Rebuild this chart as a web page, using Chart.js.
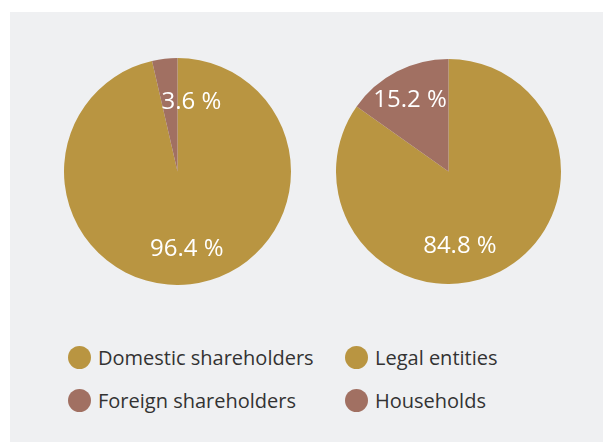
<!DOCTYPE html>
<html>
<head>
<meta charset="utf-8">
<script src="https://cdn.jsdelivr.net/npm/chart.js@4/dist/chart.umd.min.js"></script>
<style>
  body { margin: 0; background: #fff; width: 603px; height: 442px; overflow: hidden; font-family: "Open Sans", sans-serif; }
  #panel { position: absolute; left: 10px; top: 12px; width: 593px; height: 430px; background: #eff0f2; }
  .pie { position: absolute; }
  .item { position: absolute; height: 24px; display: flex; align-items: center; color: #333; font-size: 20px; white-space: nowrap; }
  .dot { width: 23px; height: 23px; border-radius: 50%; margin-right: 7px; }
</style>
</head>
<body>
<div id="panel"></div>
<div class="pie" style="left:64px; top:58px; width:227px; height:227px;"><canvas id="pie1"></canvas></div>
<div class="pie" style="left:336px; top:59px; width:225px; height:225px;"><canvas id="pie2"></canvas></div>
<div id="legend"></div>
<script>
// shareholder structure, percentages
var ownerLabels = ["Domestic shareholders", "Foreign shareholders"];
var ownerValues = [96.4, 3.6];
var typeLabels = ["Legal entities", "Households"];
var typeValues = [84.8, 15.2];

var gold = "#b99541";
var brown = "#a17062";

// where each value label sits: angle clockwise from top (deg), fraction of radius
var ownerLabelPos = [[173, 0.67], [11, 0.64]];
var typeLabelPos = [[171, 0.65], [-27.5, 0.74]];

var valueLabels = {
  id: "valueLabels",
  afterDatasetsDraw: function(chart, args, opts) {
    var ctx = chart.ctx;
    var meta = chart.getDatasetMeta(0);
    var values = chart.data.datasets[0].data;
    ctx.save();
    ctx.fillStyle = "#fff";
    ctx.font = "24px 'Open Sans'";
    ctx.textAlign = "center";
    ctx.textBaseline = "alphabetic";
    meta.data.forEach(function(arc, i) {
      var p = opts.pos[i];
      var a = p[0] * Math.PI / 180;
      var r = arc.outerRadius * p[1];
      var x = arc.x + Math.sin(a) * r;
      var y = arc.y - Math.cos(a) * r;
      ctx.fillText(values[i].toFixed(1) + " %", x, y + 9);
    });
    ctx.restore();
  }
};

function makePie(id, labels, values, pos) {
  return new Chart(document.getElementById(id), {
    type: "pie",
    data: {
      labels: labels,
      datasets: [{ data: values, backgroundColor: [gold, brown], borderWidth: 0 }]
    },
    options: {
      responsive: true,
      maintainAspectRatio: false,
      animation: false,
      layout: { padding: 0 },
      plugins: {
        legend: { display: false },
        tooltip: { enabled: false },
        valueLabels: { pos: pos }
      }
    },
    plugins: [valueLabels]
  });
}

makePie("pie1", ownerLabels, ownerValues, ownerLabelPos);
makePie("pie2", typeLabels, typeValues, typeLabelPos);

// legend, two columns
var legend = document.getElementById("legend");
var cols = [[ownerLabels, 68], [typeLabels, 345]];
var rowY = [345, 388];
cols.forEach(function(c) {
  c[0].forEach(function(name, i) {
    var d = document.createElement("div");
    d.className = "item";
    d.style.left = c[1] + "px";
    d.style.top = rowY[i] + "px";
    d.innerHTML = '<span class="dot" style="background:' + (i == 0 ? gold : brown) + '"></span>' + name;
    legend.appendChild(d);
  });
});
</script>
</body>
</html>
